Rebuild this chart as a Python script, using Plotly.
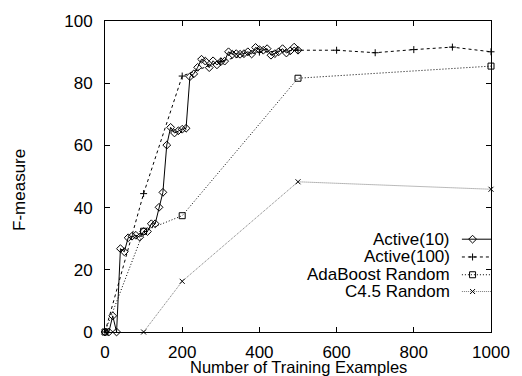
import plotly.graph_objects as go

# ---- data ----
a10_x = list(range(0, 501, 10))
a10_y = [0, 0, 5.2, 0, 26.8, 25.8, 30.3, 30.8, 31.1, 30.5,
         32.3, 32.3, 34.8, 34.8, 40.1, 44.9, 60.1, 65.8, 64.0, 64.7,
         65.2, 65.5, 82.1, 83.0, 85.1, 87.7, 87.1, 85.0, 87.2, 85.9,
         86.9, 87.1, 90.1, 89.3, 89.5, 89.3, 89.5, 90.1, 89.4, 91.5,
         90.8, 90.6, 91.1, 89.0, 89.5, 90.1, 91.1, 89.7, 90.4, 91.6,
         90.6]

a100_x = [0, 100, 200, 300, 400, 500, 600, 700, 800, 900, 1000]
a100_y = [0, 44.5, 82.3, 87.1, 90.0, 90.6, 90.6, 89.8, 90.8, 91.6, 90.1]

ada_x = [0, 100, 200, 500, 1000]
ada_y = [0, 32.4, 37.4, 81.6, 85.5]

c45_x = [100, 200, 500, 1000]
c45_y = [0, 16.3, 48.3, 45.9]

names = ["Active(10)", "Active(100)", "AdaBoost Random", "C4.5 Random"]
x_ticks = [0, 200, 400, 600, 800, 1000]
y_ticks = [0, 20, 40, 60, 80, 100]

FONT = "Liberation Sans, Arial, Helvetica, sans-serif"
FS = 17

styles = [
    dict(line=dict(color="black", width=1, dash="solid"),
         marker=dict(symbol="diamond-open", size=6, color="black", line=dict(width=1))),
    dict(line=dict(color="black", width=1, dash="3px,3px"),
         marker=dict(symbol="cross-thin-open", size=5, color="black", line=dict(width=1))),
    dict(line=dict(color="black", width=1, dash="1px,2px"),
         marker=dict(symbol="square-open", size=6, color="black", line=dict(width=1))),
    dict(line=dict(color="#555", width=0.8, dash="1px,1px"),
         marker=dict(symbol="x-thin-open", size=5, color="black", line=dict(width=1))),
]

series = [(a10_x, a10_y), (a100_x, a100_y), (ada_x, ada_y), (c45_x, c45_y)]

fig = go.Figure()
for (xs, ys), st, nm in zip(series, styles, names):
    fig.add_trace(go.Scatter(x=xs, y=ys, mode="lines+markers", name=nm,
                             line=st["line"], marker=st["marker"],
                             showlegend=False, cliponaxis=False))

# ---- custom legend (text left of sample, as in gnuplot) ----
L, R, T, B = 105, 503, 17, 332
W, H = 522, 376


def px(xp):
    return (xp - L) / (R - L)


def py(yp):
    return (B - yp) / (B - T)


leg_rows = [238, 256, 274, 291]
for nm, st, ry in zip(names, styles, leg_rows):
    fig.add_trace(go.Scatter(x=[473, 503], y=[ry, ry], mode="lines", line=st["line"],
                             xaxis="x2", yaxis="y2", showlegend=False, hoverinfo="skip"))
    fig.add_trace(go.Scatter(x=[484], y=[ry], mode="markers", marker=st["marker"],
                             xaxis="x2", yaxis="y2", showlegend=False, hoverinfo="skip"))
    fig.add_annotation(x=px(463), y=py(ry), xref="paper", yref="paper", text=nm, showarrow=False,
                       xanchor="right", yanchor="middle",
                       font=dict(family=FONT, size=FS, color="black"))

axis_common = dict(showgrid=False, zeroline=False, showline=True, linecolor="black",
                   linewidth=1, mirror="ticks", ticks="inside", ticklen=5,
                   tickcolor="black", tickfont=dict(family=FONT, size=FS, color="black"))

fig.update_layout(
    width=W, height=H,
    margin=dict(l=L, r=W - R, t=T, b=H - B),
    paper_bgcolor="white", plot_bgcolor="white",
    font=dict(family=FONT, size=FS, color="black"),
    xaxis=dict(range=[0, 1000], tickvals=x_ticks, ticklabelstandoff=5, **axis_common),
    yaxis=dict(range=[0, 100], tickvals=y_ticks, ticklabelstandoff=8, **axis_common),
    xaxis2=dict(range=[L, R], overlaying="x", anchor="y2", visible=False),
    yaxis2=dict(range=[B, T], overlaying="y", anchor="x2", visible=False),
    showlegend=False,
)

fig.add_annotation(x=px((L + R) / 2), y=py(367), xref="paper", yref="paper",
                   text="Number of Training Examples", showarrow=False,
                   xanchor="center", yanchor="middle", font=dict(family=FONT, size=16.5))
fig.add_annotation(x=px(17.5), y=py(188), xref="paper", yref="paper", text="F-measure",
                   textangle=-90, showarrow=False, xanchor="center", yanchor="middle",
                   font=dict(family=FONT, size=FS))

fig.write_html("out.html")
